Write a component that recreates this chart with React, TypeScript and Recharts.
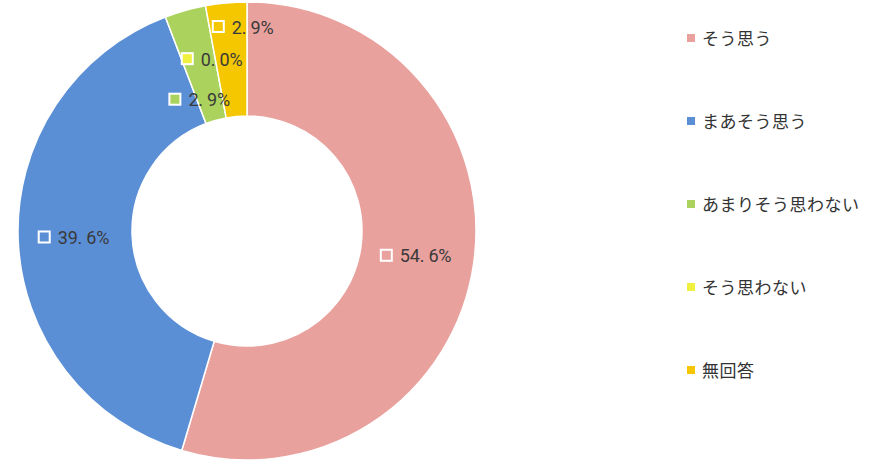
import React from 'react';
import { PieChart, Pie, Cell, Legend } from 'recharts';

const categories = ['そう思う', 'まあそう思う', 'あまりそう思わない', 'そう思わない', '無回答'];
const shares = [54.6, 39.6, 2.9, 0.0, 2.9];
const colors = ['#E9A19E', '#5A8FD6', '#ABD25C', '#F0F03E', '#F4C700'];

// manual label placement for the crowded small slices (radius px, clockwise shift deg)
const labelRadius = [172, 172, 139, 175, 204];
const labelShift = [0, 0, -3.5, -0.5, 4.6];

const data = categories.map((name, i) => ({ name, value: shares[i] }));

const RAD = Math.PI / 180;

const renderLabel = (props: any) => {
  const { cx, cy, midAngle, index, value } = props;
  const angle = midAngle - labelShift[index];
  const r = labelRadius[index];
  const x = cx + r * Math.cos(-angle * RAD);
  const y = cy + r * Math.sin(-angle * RAD);
  const text = value.toFixed(1).replace('.', '. ') + '%';
  const w = 12 + 8 + text.length * 8.8;
  const left = x - w / 2;
  return (
    <g>
      <rect x={left} y={y - 6} width={11} height={11} fill={colors[index]} stroke="#fff" strokeWidth={2} />
      <text x={left + 19} y={y} dominantBaseline="central" fill="#3a3a3a" fontSize={18}
        fontFamily="Roboto, sans-serif" style={{ letterSpacing: '-0.2px' }}>
        {text}
      </text>
    </g>
  );
};

const renderLegend = () => (
  <div style={{ fontFamily: '"Noto Sans CJK JP", sans-serif', fontSize: 17, color: '#333' }}>
    {categories.map((name, i) => (
      <div key={name} style={{ height: 83, display: 'flex', alignItems: 'flex-start' }}>
        <span style={{ display: 'inline-block', width: 8, height: 8, background: colors[i], marginTop: 8, marginRight: 7 }} />
        <span style={{ letterSpacing: 0.5, lineHeight: '24px' }}>{name}</span>
      </div>
    ))}
  </div>
);

export default function App() {
  return (
    <div style={{ position: 'absolute', left: 0, top: 0, background: '#fff' }}>
      <PieChart width={873} height={462} margin={{ top: 0, right: 0, bottom: 0, left: 0 }}>
        <Pie
          data={data}
          dataKey="value"
          nameKey="name"
          cx={247}
          cy={231}
          innerRadius={115}
          outerRadius={229}
          startAngle={90}
          endAngle={-270}
          stroke="#fff"
          strokeWidth={1.5}
          label={renderLabel}
          labelLine={false}
          isAnimationActive={false}
        >
          {data.map((d, i) => (
            <Cell key={d.name} fill={colors[i]} />
          ))}
        </Pie>
        <Legend
          layout="vertical"
          align="right"
          verticalAlign="top"
          content={renderLegend}
          wrapperStyle={{ left: 687, top: 26, width: 185 }}
        />
      </PieChart>
    </div>
  );
}
